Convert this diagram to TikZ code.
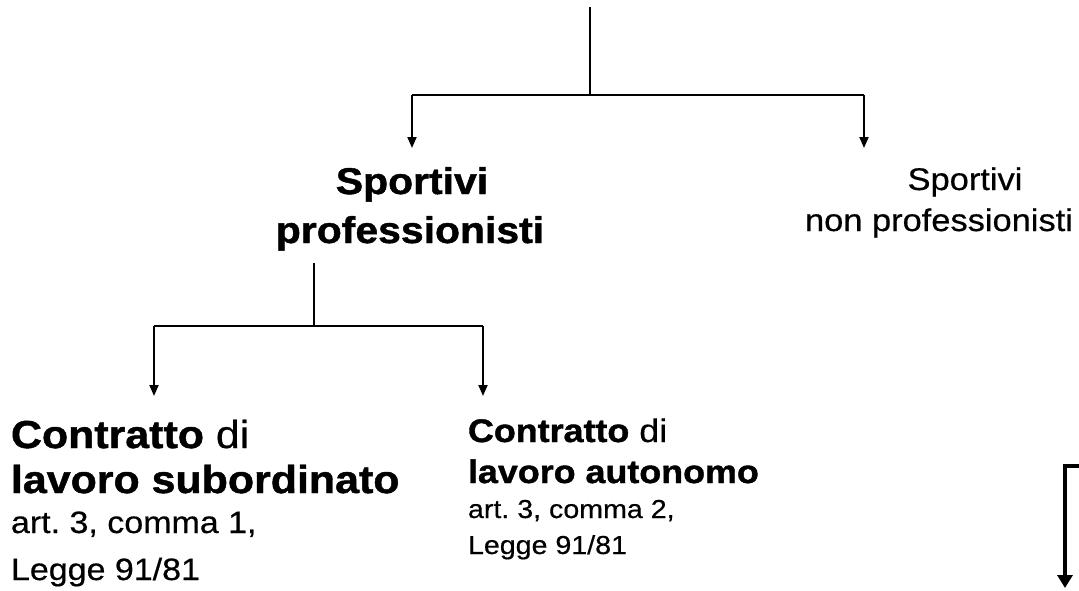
\documentclass[tikz,border=0pt]{standalone}
\usepackage{fontspec}
\setmainfont{Liberation Sans}[FakeStretch=1.1, FakeBold=0.5, BoldFeatures={FakeBold=1.2}]
\usetikzlibrary{arrows.meta}
\frenchspacing
\tikzset{
  tree/.style={line width=1.9pt},
  arr/.style={tree,-{Triangle[width=9pt,length=11pt]}},
  lbl/.style={inner sep=0pt,outer sep=0pt,anchor=base west},
  clbl/.style={inner sep=0pt,outer sep=0pt,anchor=base},
  bigb/.style={font=\fontsize{37.2}{44}\selectfont\bfseries},
  midr/.style={font=\fontsize{31.3}{38}\selectfont},
  lb/.style={font=\fontsize{39}{46}\selectfont},
  lr/.style={font=\fontsize{30.9}{38}\selectfont},
  rb/.style={font=\fontsize{32.6}{40}\selectfont},
  rr/.style={font=\fontsize{26}{32}\selectfont},
}
\begin{document}
\begin{tikzpicture}[x=1pt,y=-1pt]
\useasboundingbox (0,0) rectangle (1079,590);
% top tree
\coordinate (r0) at (590,7);
\coordinate (r1) at (590,95);
\coordinate (rl) at (412,95);
\coordinate (rr) at (864,95);
\coordinate (rlt) at (412,148);
\coordinate (rrt) at (864,148);
\draw[tree] (r0) -- (r1);
\draw[tree] (rl) -- (rr);
\draw[arr] (rl) -- (rlt);
\draw[arr] (rr) -- (rrt);
% labels
\node[clbl,bigb] (sp1) at (412,194) {Sportivi};
\node[clbl,bigb] (sp2) at (410,243) {professionisti};
\node[clbl,midr] (np1) at (965,190) {Sportivi};
\node[clbl,midr] (np2) at (939,231) {non professionisti};
% second tree
\coordinate (s0) at (314,263);
\coordinate (s1) at (314,326);
\coordinate (sl) at (154,326);
\coordinate (sr) at (483,326);
\coordinate (slt) at (154,396);
\coordinate (srt) at (483,396);
\draw[tree] (s0) -- (s1);
\draw[tree] (sl) -- (sr);
\draw[arr] (sl) -- (slt);
\draw[arr] (sr) -- (srt);
% left block
\node[lbl,lb] (a1) at (11,448) {\textbf{Contratto} di};
\node[lbl,lb] (a2) at (11,493) {\textbf{lavoro subordinato}};
\node[lbl,lr] (a3) at (11,533) {art. 3, comma 1,};
\node[lbl,lr] (a4) at (11,580) {Legge 91/81};
% right block
\node[lbl,rb] (b1) at (468,442) {\textbf{Contratto} di};
\node[lbl,rb] (b2) at (468,483) {\textbf{lavoro autonomo}};
\node[lbl,rr] (b3) at (468,518) {art. 3, comma 2,};
\node[lbl,rr] (b4) at (468,554) {Legge 91/81};
% bottom right bracket
\coordinate (k0) at (1080,466);
\coordinate (k1) at (1065,466);
\coordinate (k2) at (1065,588);
\draw[line width=3.5pt,-{Triangle[width=15pt,length=13pt]}] (k0) -- (k1) -- (k2);
\end{tikzpicture}
\end{document}
